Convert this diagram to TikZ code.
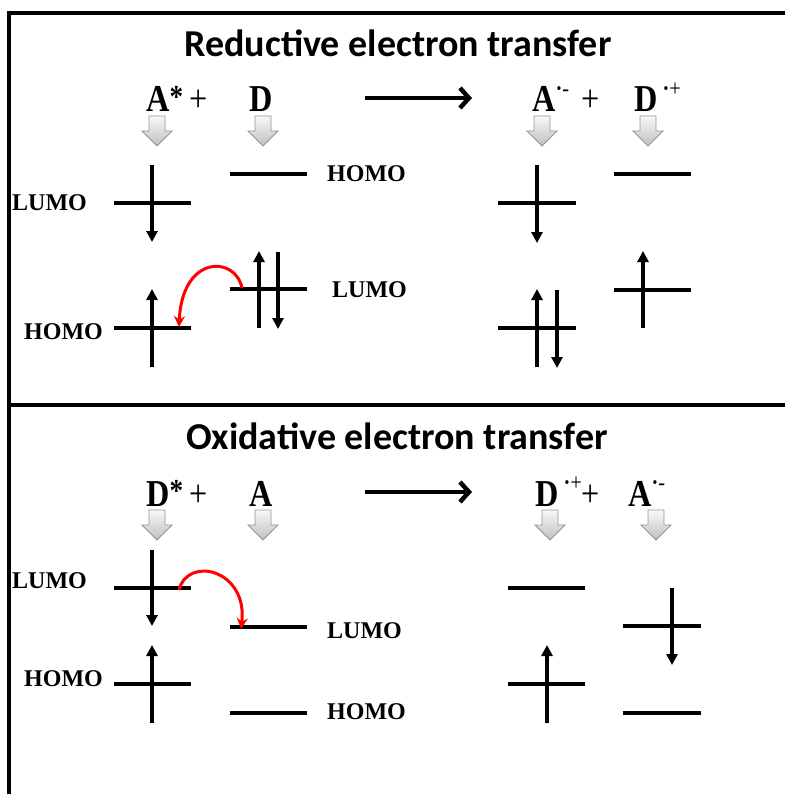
\documentclass[tikz,border=0pt]{standalone}
\usepackage{fontspec}
\setmainfont{Liberation Serif}
\newfontfamily\titlefont{Carlito}
\newfontfamily\specfont[FakeStretch=0.85]{Liberation Serif}
\usetikzlibrary{arrows.meta}
\newcommand\supx[1]{\raisebox{0.42em}{\fontsize{24}{24}\selectfont #1}}
\newcommand\starx{\raisebox{0.12em}{\fontsize{32}{32}\selectfont\textbf{*}}}
\begin{document}
\begin{tikzpicture}[x=1pt,y=-1pt,
  frame/.style={line width=3.5pt},
  lvl/.style={line width=3.6pt},
  spin/.style={line width=3.6pt,-{Triangle[length=11pt,width=11pt]}},
  et/.style={red,line width=3pt,-{Stealth[length=11pt,width=11pt]}},
  lab/.style={font=\fontsize{24}{24}\selectfont\bfseries, anchor=west, inner sep=0pt},
  spec/.style={font=\specfont\fontsize{38}{38}\selectfont, anchor=base west, inner sep=0pt},
  ttl/.style={font=\titlefont\bfseries\fontsize{38}{38}\selectfont, anchor=base, inner sep=0pt},
  rxn/.style={line width=4.5pt,-{Straight Barb[length=9pt,width=20pt]}},
  darr/.pic={\path[draw=gray!85, line width=0.8pt, top color=gray!5, bottom color=gray!50]
     (-8,0) -- (8,0) -- (8,15) -- (15,15) -- (0,30) -- (-15,15) -- (-8,15) -- cycle;}]
\useasboundingbox (0,0) rectangle (785,794);
% frame
\draw[frame] (785,13) -- (9,13) -- (9,794);
\draw[frame] (9,405) -- (785,405);

% ---------------- Reductive ----------------
\node[ttl] (t1) at (398,57) {Reductive electron transfer};
\node[spec] (sA) at (146,112) {\textbf{A}\starx\hspace{6pt}+};
\node[spec] (sD) at (249,112) {\textbf{D}};
\node[spec] (sAm) at (532,112) {\textbf{A}\supx{\textbf{·}-}\hspace{12pt}+};
\node[spec] (sDp) at (634,112) {\textbf{D}\hspace{5pt}\supx{\textbf{·}+}};
\coordinate (r1s) at (365,98);
\coordinate (r1e) at (472,98);
\draw[rxn] (r1s) -- (r1e);
\pic at (157,116) {darr};
\pic at (263,116) {darr};
\pic at (542,116) {darr};
\pic at (648,116) {darr};

% A*
\draw[lvl] (114,203) -- (191,203);
\draw[spin] (152,165) -- (152,242);
\draw[lvl] (114,328) -- (191,328);
\draw[spin] (152,367) -- (152,289);
% D
\draw[lvl] (230,174) -- (307,174);
\draw[lvl] (230,289) -- (307,289);
\draw[spin] (259,328) -- (259,251);
\draw[spin] (278,252) -- (278,329);
\draw[et] (242,288) .. controls (235,255) and (182,255) .. (179,327);
\node[lab] (l1) at (12,203) {LUMO};
\node[lab] (h1) at (24,332) {HOMO};
\node[lab] (h2) at (327,174) {HOMO};
\node[lab] (l2) at (332,290) {LUMO};
% A.-
\draw[lvl] (498,203) -- (576,203);
\draw[spin] (537,165) -- (537,243);
\draw[lvl] (498,328) -- (576,328);
\draw[spin] (537,367) -- (537,289);
\draw[spin] (557,290) -- (557,368);
% D.+
\draw[lvl] (614,174) -- (691,174);
\draw[lvl] (614,290) -- (691,290);
\draw[spin] (643,328) -- (643,251);

% ---------------- Oxidative ----------------
\node[ttl] (t2) at (397,449) {Oxidative electron transfer};
\node[spec] (bD) at (146,506) {\textbf{D}\starx\hspace{6pt}+};
\node[spec] (bA) at (249,506) {\textbf{A}};
\node[spec] (bDp) at (535,506) {\textbf{D}\hspace{5pt}\supx{\textbf{·}+}+};
\node[spec] (bAm) at (628,506) {\textbf{A}\supx{\textbf{·}-}};
\coordinate (r2s) at (365,492);
\coordinate (r2e) at (472,492);
\draw[rxn] (r2s) -- (r2e);
\pic at (157,510) {darr};
\pic at (263,510) {darr};
\pic at (550,510) {darr};
\pic at (656,510) {darr};

% D*
\draw[lvl] (114,588) -- (191,588);
\draw[spin] (152,550) -- (152,626);
\draw[lvl] (114,684) -- (191,684);
\draw[spin] (152,723) -- (152,645);
% A
\draw[lvl] (230,627) -- (307,627);
\draw[lvl] (230,713) -- (307,713);
\draw[et] (179,590) .. controls (188,555) and (248,570) .. (241,629);
\node[lab] (l3) at (12,581) {LUMO};
\node[lab] (h3) at (24,679) {HOMO};
\node[lab] (l4) at (327,631) {LUMO};
\node[lab] (h4) at (327,712) {HOMO};
% D.+
\draw[lvl] (508,588) -- (585,588);
\draw[lvl] (508,684) -- (585,684);
\draw[spin] (547,723) -- (547,645);
% A.-
\draw[lvl] (623,626) -- (701,626);
\draw[spin] (672,588) -- (672,665);
\draw[lvl] (623,713) -- (701,713);
\end{tikzpicture}
\end{document}
